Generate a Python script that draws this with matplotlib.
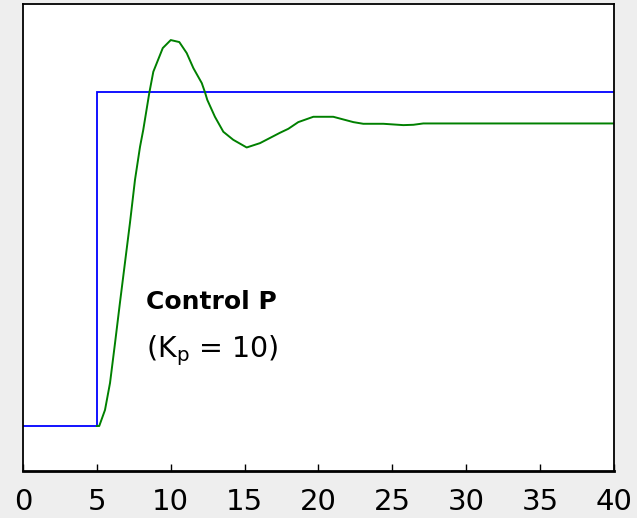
import matplotlib
matplotlib.use("Agg")
import matplotlib.pyplot as plt

plt.rcParams['font.family'] = ['DejaVu Sans']
plt.rcParams['mathtext.fontset'] = 'dejavusans'

# set point (step at t = 5)
sp_t = [0, 5, 5, 40]
sp_y = [0, 0, 1, 1]

# process response, P control with Kp = 10
pv_t = [5.0, 5.16, 5.55, 5.89, 6.23, 6.56, 6.90, 7.24, 7.58, 7.92, 8.14,
        8.55, 8.82, 9.46, 10.0, 10.58, 11.08, 11.53, 12.10, 12.32, 12.47,
        12.99, 13.56, 14.23, 15.14, 16.04, 17.39, 17.96, 18.63, 19.65, 21.0,
        22.36, 23.03, 24.39, 25.74, 26.42, 27.09, 40]
pv_y = [0, 0.0, 0.048, 0.129, 0.249, 0.369, 0.489, 0.609, 0.738, 0.837,
        0.888, 0.999, 1.062, 1.133, 1.157, 1.151, 1.118, 1.073, 1.028, 1.000,
        0.978, 0.927, 0.882, 0.858, 0.835, 0.848, 0.879, 0.891, 0.911, 0.927,
        0.927, 0.911, 0.906, 0.906, 0.902, 0.903, 0.907, 0.907]

x_ticks = [0, 5, 10, 15, 20, 25, 30, 35, 40]

fig = plt.figure(figsize=(6.37, 5.18), dpi=100)
fig.patch.set_facecolor('#eeeeee')
ax = fig.add_axes([0.0361, 0.0907, 0.9278, 0.9015])
ax.set_facecolor('white')

ax.plot(sp_t, sp_y, color='#0000ff', lw=1.3, solid_joinstyle='miter')
ax.plot(pv_t, pv_y, color='#008000', lw=1.4)

ax.set_xlim(0, 40)
ax.set_ylim(-0.135, 1.265)
ax.set_xticks(x_ticks)
ax.set_yticks([])
ax.tick_params(axis='x', direction='in', length=5, width=1, pad=12,
               labelsize=21, colors='black')

for side in ['left', 'top', 'right']:
    ax.spines[side].set_linewidth(1.3)
ax.spines['bottom'].set_linewidth(2)

ax.text(8.33, 0.351, 'Control P', fontsize=18, fontweight='bold')
ax.text(8.33, 0.207, r'(K$_\mathrm{p}$ = 10)', fontsize=20.5)

fig.savefig('out.png', dpi=100, facecolor=fig.get_facecolor())
